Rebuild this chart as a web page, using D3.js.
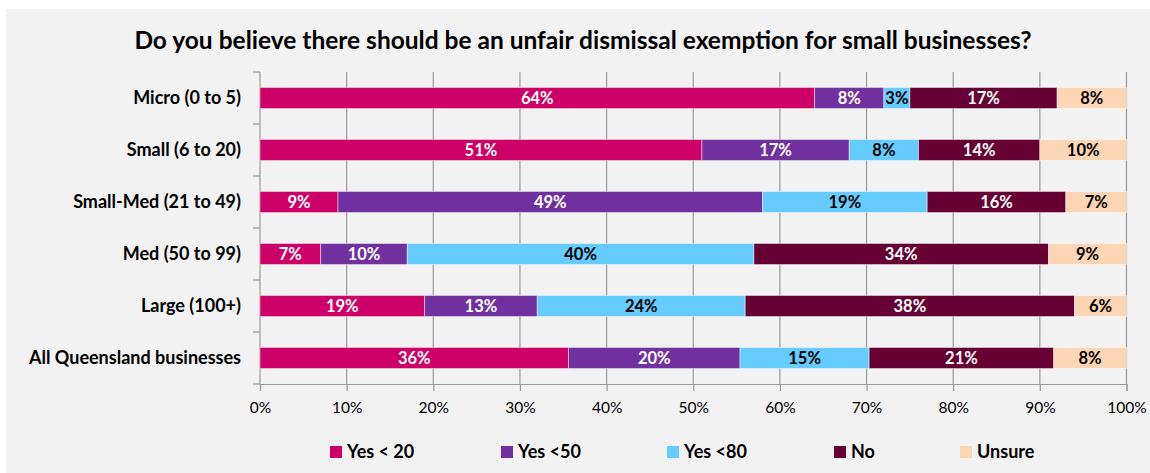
<!DOCTYPE html>
<html><head><meta charset="utf-8">
<script src="https://cdn.jsdelivr.net/npm/d3@7"></script>
<style>
html,body{margin:0;padding:0;background:#fff;}
svg{display:block;}
text{font-family:Lato,"Open Sans",sans-serif;}
</style></head>
<body>
<script>
const title = "Do you believe there should be an unfair dismissal exemption for small businesses?";
const categories = ["Micro (0 to 5)","Small (6 to 20)","Small-Med (21 to 49)","Med (50 to 99)","Large (100+)","All Queensland businesses"];
const seriesNames = ["Yes < 20","Yes <50","Yes <80","No","Unsure"];
const yesUnder20 = [64, 51, 9, 7, 19, 35.6];
const yesUnder50 = [8, 17, 49, 10, 13, 19.8];
const yesUnder80 = [3, 8, 19, 40, 24, 14.9];
const no = [17, 14, 16, 34, 38, 21.3];
const unsure = [8, 10, 7, 9, 6, 8.4];
const xTicks = [0,10,20,30,40,50,60,70,80,90,100];
const colors = ["#CC0066","#7030A0","#66CCFF","#660033","#FCD5B5"];
const labelColors = ["#fff","#fff","#000","#fff","#000"];

const W = 1150, H = 473;
const svg = d3.select("body").append("svg").attr("width", W).attr("height", H);
svg.append("rect").attr("x",0).attr("y",0).attr("width",W).attr("height",H).attr("fill","#fff");
svg.append("rect").attr("x",6).attr("y",9).attr("width",W-6).attr("height",H-9).attr("fill","#F2F2F2");

const x = d3.scaleLinear().domain([0,100]).range([260,1126.5]);
const yb = d3.scaleBand().domain(categories).range([72,384]);

svg.append("text").attr("x",583).attr("y",49).attr("text-anchor","middle")
  .attr("font-size",24.5).attr("font-weight","bold").attr("fill","#000").text(title);

// gridlines
const gridColor = "#999999";
svg.append("g").selectAll("line").data(xTicks.filter(d=>d>0)).join("line")
  .attr("x1",d=>x(d)).attr("x2",d=>x(d)).attr("y1",72).attr("y2",384)
  .attr("stroke",gridColor).attr("stroke-width",1.2);

// x axis
const xAxis = svg.append("g").attr("transform","translate(0,384)")
  .call(d3.axisBottom(x).tickValues(xTicks).tickFormat(d=>d+"%").tickSize(7).tickPadding(11));
xAxis.select(".domain").attr("stroke",gridColor).attr("stroke-width",1.2);
xAxis.selectAll(".tick line").attr("stroke",gridColor).attr("stroke-width",1.2);
xAxis.selectAll("text").attr("font-size",15.5).attr("fill","#000").attr("font-family","Lato");

// y axis: line + ticks at band boundaries
const yAxisG = svg.append("g");
yAxisG.append("line").attr("x1",260).attr("x2",260).attr("y1",72).attr("y2",384).attr("stroke",gridColor).attr("stroke-width",1.2);
const bounds = categories.map(c=>yb(c)).concat([384]);
yAxisG.selectAll("line.t").data(bounds).join("line").attr("class","t")
  .attr("x1",253).attr("x2",260).attr("y1",d=>d).attr("y2",d=>d).attr("stroke",gridColor).attr("stroke-width",1.2);
yAxisG.selectAll("text").data(categories).join("text")
  .attr("x",241).attr("y",d=>yb(d)+yb.bandwidth()/2).attr("dy","0.36em")
  .attr("text-anchor","end").attr("font-size",18).attr("font-weight","bold").attr("fill","#000").text(d=>d);

// stacked data
const rows = categories.map((c,i)=>({cat:c, "Yes < 20":yesUnder20[i], "Yes <50":yesUnder50[i], "Yes <80":yesUnder80[i], "No":no[i], "Unsure":unsure[i]}));
const stack = d3.stack().keys(seriesNames)(rows);
const barH = 21;
const layers = svg.append("g").selectAll("g").data(stack).join("g").attr("fill",(d,i)=>colors[i]);
layers.selectAll("rect").data(d=>d).join("rect")
  .attr("x",d=>x(d[0])).attr("width",d=>x(d[1])-x(d[0]))
  .attr("y",d=>yb(d.data.cat)+yb.bandwidth()/2-barH/2).attr("height",barH)
  .attr("stroke","rgba(255,255,255,0.45)").attr("stroke-width",1);

const lbl = svg.append("g");
stack.forEach((layer,si)=>{
  lbl.selectAll(null).data(layer).join("text")
    .attr("x",d=>(x(d[0])+x(d[1]))/2).attr("y",d=>yb(d.data.cat)+yb.bandwidth()/2).attr("dy","0.36em")
    .attr("text-anchor","middle").attr("font-size",16.5).attr("font-weight","bold")
    .attr("fill",labelColors[si]).text(d=>Math.round(d[1]-d[0])+"%");
});

// legend
const legendX = [330,501,667,834,960];
const lg = svg.append("g");
seriesNames.forEach((s,i)=>{
  lg.append("rect").attr("x",legendX[i]).attr("y",446).attr("width",12).attr("height",12).attr("fill",colors[i]);
  lg.append("text").attr("x",legendX[i]+17).attr("y",458).attr("font-size",18).attr("font-weight","bold").attr("fill","#000").text(s);
});
</script>
</body></html>
